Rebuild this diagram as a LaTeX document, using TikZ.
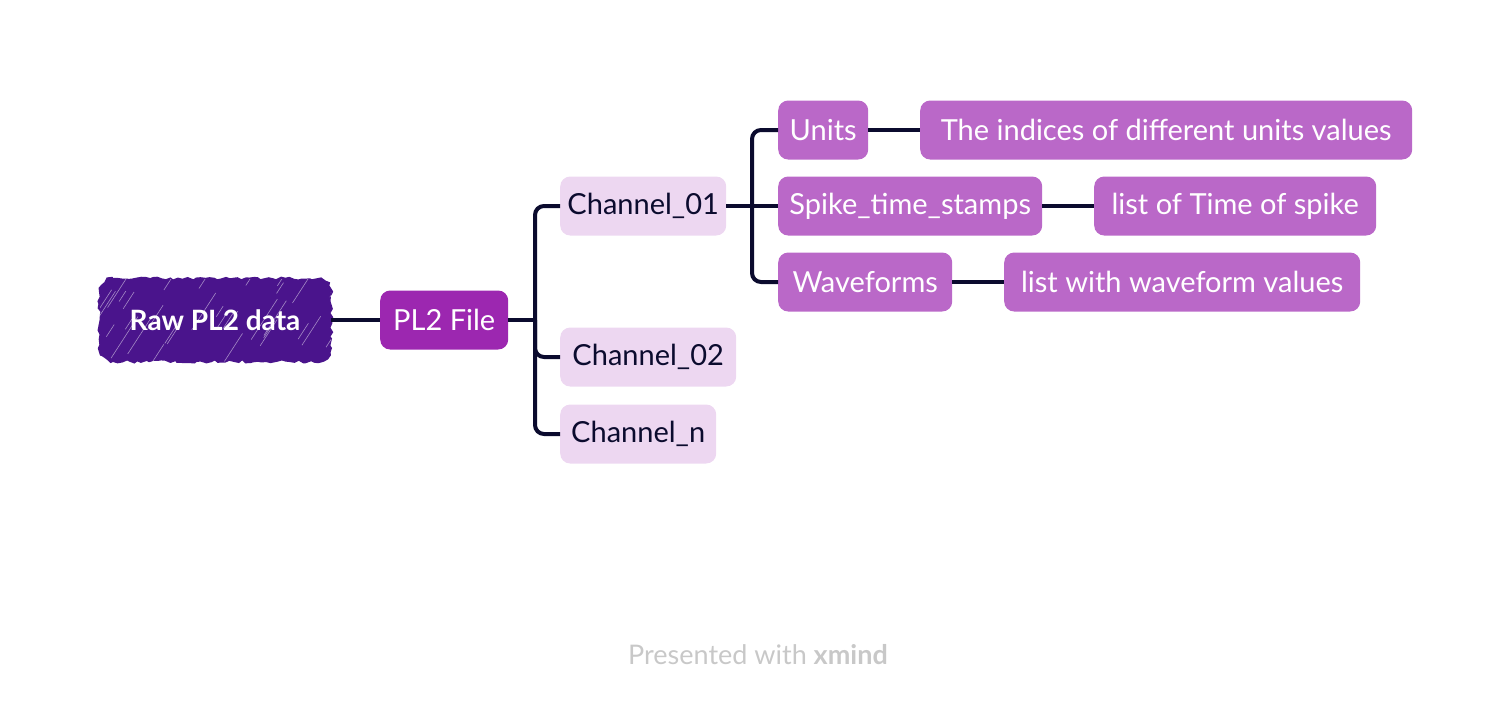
\documentclass[tikz,border=0pt]{standalone}
\usepackage{fontspec}
\setmainfont{Lato}
\usetikzlibrary{backgrounds,decorations.pathmorphing}
\definecolor{Ink}{HTML}{0B0B2E}
\definecolor{RootFill}{HTML}{4A148C}
\definecolor{FileFill}{HTML}{9C27B0}
\definecolor{ChanFill}{HTML}{EDD7F1}
\definecolor{LeafFill}{HTML}{BA68C8}
\definecolor{Muted}{HTML}{C8C8C8}

\tikzset{
  topic/.style={anchor=west, rounded corners=10pt, minimum height=59pt,
    inner sep=0pt, font=\fontsize{29}{33}\selectfont},
  chanbox/.style={topic, fill=ChanFill, text=Ink},
  leafbox/.style={topic, fill=LeafFill, text=white},
  link/.style={draw=Ink, line width=4pt},
  fork/.style={link, rounded corners=9pt},
}

\begin{document}
\begin{tikzpicture}[x=1pt,y=-1pt]
\path[use as bounding box] (0,0) rectangle (1512,704);

% root and file
\node[minimum width=232pt, minimum height=86pt, text=white,
  font=\fontsize{28}{32}\selectfont\bfseries] (root) at (215,320) {Raw PL2 data};
\begin{scope}[on background layer]
  \pgfmathsetseed{11}
  \fill[RootFill, decorate,
    decoration={random steps,segment length=4pt,amplitude=1.6pt}]
    (113,278) -- (318,278) arc[start angle=-90,end angle=0,radius=14]
    -- (332,348) arc[start angle=0,end angle=90,radius=14]
    -- (113,362) arc[start angle=90,end angle=180,radius=14]
    -- (99,292) arc[start angle=180,end angle=270,radius=14] -- cycle;
  \clip (100,279) rectangle (331,361);
  \foreach \i in {1,...,34} {
    \pgfmathsetmacro\sx{96+236*rnd}
    \pgfmathsetmacro\sy{285+80*rnd}
    \pgfmathsetmacro\sl{12+38*rnd}
    \draw[white, opacity=.5, line width=.6pt] (\sx,\sy) -- ++(.55*\sl,-.85*\sl);
  }
\end{scope}
\node[topic, fill=FileFill, text=white, minimum width=128pt] (pl2) at (380,320) {PL2 File};

% channels
\node[chanbox, minimum width=166pt] (ch1) at (560,206) {Channel\_01};
\node[chanbox, minimum width=176pt] (ch2) at (560,357) {Channel\_02};
\node[chanbox, minimum width=156pt] (chn) at (560,434) {Channel\_n};

% channel content
\node[leafbox, minimum width=90pt] (units) at (778,130) {Units};
\node[leafbox, minimum width=264pt] (spikes) at (778,206) {Spike\_time\_stamps};
\node[leafbox, minimum width=174pt] (waves) at (778,282) {Waveforms};
\node[leafbox, minimum width=492pt] (unitsval) at (920,130) {The indices of different units values};
\node[leafbox, minimum width=282pt] (spikesval) at (1094,206) {list of Time of spike};
\node[leafbox, minimum width=356pt] (wavesval) at (1004,282) {list with waveform values};

% connectors
\coordinate (b1) at (535,320);
\coordinate (b2) at (752,206);
\draw[link] (root.east) -- (pl2.west);
\draw[link] (pl2.east) -- (b1);
\draw[fork] (b1) |- (ch1.west);
\draw[fork] (b1) |- (ch2.west);
\draw[fork] (b1) |- (chn.west);
\draw[link] (ch1.east) -- (spikes.west);
\draw[fork] (b2) |- (units.west);
\draw[fork] (b2) |- (waves.west);
\draw[link] (units.east) -- (unitsval.west);
\draw[link] (spikes.east) -- (spikesval.west);
\draw[link] (waves.east) -- (wavesval.west);

\node[text=Muted, font=\fontsize{27}{31}\selectfont] (credit) at (758,655)
  {Presented with \textbf{xmind}};
\end{tikzpicture}
\end{document}
